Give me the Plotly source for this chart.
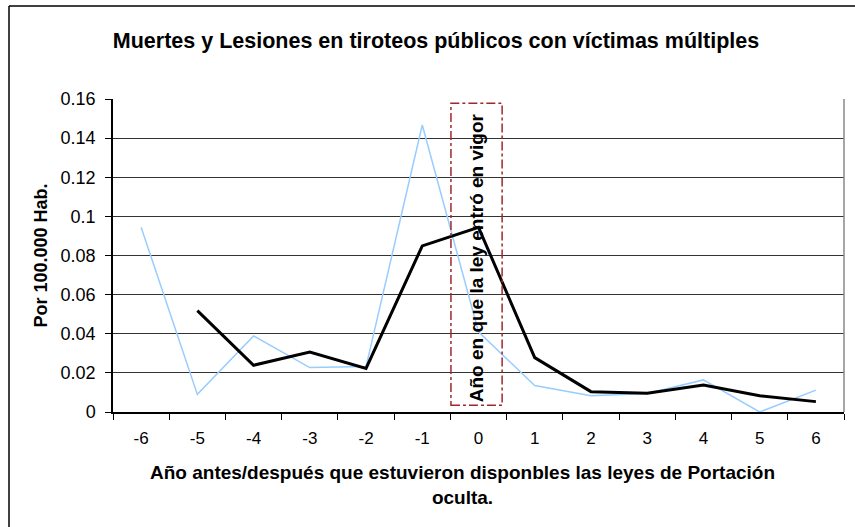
import plotly.graph_objects as go

years = ["-6", "-5", "-4", "-3", "-2", "-1", "0", "1", "2", "3", "4", "5", "6"]
blue_vals = [0.0944, 0.0090, 0.0389, 0.0227, 0.0232, 0.1467, 0.0410, 0.0135, 0.0083, 0.0095, 0.0164, 0.0000, 0.0112]
black_years = ["-5", "-4", "-3", "-2", "-1", "0", "1", "2", "3", "4", "5", "6"]
black_vals = [0.0518, 0.0239, 0.0307, 0.0223, 0.0849, 0.0944, 0.0278, 0.0104, 0.0096, 0.0138, 0.0083, 0.0053]
y_ticks = [0, 0.02, 0.04, 0.06, 0.08, 0.1, 0.12, 0.14, 0.16]
y_tick_labels = ["0", "0.02", "0.04", "0.06", "0.08", "0.1", "0.12", "0.14", "0.16"]

FONT = "Liberation Sans, Arial, sans-serif"

fig = go.Figure()
fig.add_trace(go.Scatter(x=years, y=blue_vals, mode="lines",
                         line=dict(color="#99CCFF", width=1.5), showlegend=False))
fig.add_trace(go.Scatter(x=black_years, y=black_vals, mode="lines",
                         line=dict(color="#000000", width=3), showlegend=False))

L, R, T, B = 113, 11, 99, 115
W, H = 855, 527
pw, ph = W - L - R, H - T - B

def px(xp):
    return (xp - L) / pw

def py(yp):
    return (H - B - yp) / ph

shapes = [
    # highlight box around year 0
    dict(type="rect", xref="x", yref="y", x0=5.51, x1=6.42, y0=0.0034, y1=0.1578,
         line=dict(color="#A0282D", width=1.5, dash="dashdot"), fillcolor="rgba(0,0,0,0)"),
    # plot area right border
    dict(type="line", xref="paper", yref="paper", x0=1, x1=1, y0=0, y1=1,
         line=dict(color="#888888", width=1.5)),
    # outer chart border (top & left visible)
    dict(type="line", xref="paper", yref="paper", x0=px(9), x1=px(860), y0=py(6), y1=py(6),
         line=dict(color="#000000", width=1.5)),
    dict(type="line", xref="paper", yref="paper", x0=px(9), x1=px(9), y0=py(6), y1=py(540),
         line=dict(color="#000000", width=1.5)),
]

fig.update_layout(
    width=W, height=H,
    margin=dict(l=L, r=R, t=T, b=B, autoexpand=False),
    paper_bgcolor="white", plot_bgcolor="white",
    font=dict(family=FONT, color="black", size=16),
    title=dict(text="<b>Muertes y Lesiones en tiroteos públicos con víctimas múltiples</b>",
               x=436 / W, xanchor="center", y=1 - 40 / H, yanchor="middle",
               font=dict(family=FONT, size=21.5, color="black")),
    shapes=shapes,
    annotations=[
        dict(text="<b>Año en que la ley entró en vigor</b>", xref="x", yref="y",
             x=5.97, y=0.0790, textangle=-90, showarrow=False,
             font=dict(family=FONT, size=19, color="black")),
        dict(text="<b>Año antes/después que estuvieron disponbles las leyes de Portación<br>oculta.</b>",
             xref="paper", yref="paper", x=px(462), y=py(484.5), xanchor="center", yanchor="middle",
             showarrow=False, font=dict(family=FONT, size=19, color="black")),
    ],
)

fig.update_xaxes(type="category", categoryorder="array", categoryarray=years,
                 range=[-0.5, 12.5], tickson="boundaries", ticks="outside", ticklen=6,
                 tickcolor="black", showline=True, linecolor="black", linewidth=1.5,
                 showgrid=False, tickfont=dict(size=17), ticklabelstandoff=10)
fig.update_yaxes(range=[0, 0.16], tickvals=y_ticks, ticktext=y_tick_labels,
                 ticks="outside", ticklen=6, tickcolor="black",
                 showline=True, linecolor="black", linewidth=1.5,
                 showgrid=True, gridcolor="#333333", gridwidth=1, zeroline=False,
                 tickfont=dict(size=18), ticklabelstandoff=6,
                 title=dict(text="<b>Por 100.000 Hab.</b>", font=dict(size=18), standoff=8))

fig.write_html("out.html", config={"displayModeBar": False},
               post_script="document.body.style.margin='0px';")
